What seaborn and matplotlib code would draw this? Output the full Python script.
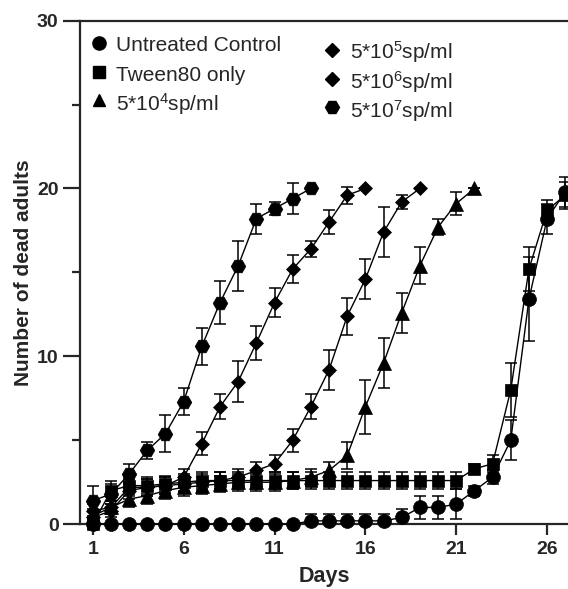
import numpy as np
import pandas as pd
import matplotlib.pyplot as plt
import seaborn as sns
from matplotlib.ticker import MultipleLocator

# mean number of dead adults per day and SEM
groups = ["Untreated Control", "Tween80 only", "5*10$^4$sp/ml",
          "5*10$^5$sp/ml", "5*10$^6$sp/ml", "5*10$^7$sp/ml"]
markers = ["o", "s", "^", "D", "D", "H"]

control = [0, 0, 0, 0, 0, 0, 0, 0, 0, 0, 0, 0, 0.2, 0.2, 0.2, 0.2, 0.2,
           0.4, 1.0, 1.0, 1.2, 2.0, 2.8, 5.0, 13.4, 18.2, 19.8]
control_sem = [0, 0, 0, 0, 0, 0, 0, 0, 0, 0, 0, 0, 0.4, 0.4, 0.4, 0.4, 0.4,
               0.5, 0.7, 0.7, 0.9, 0.3, 0.4, 1.2, 2.5, 0.9, 0.9]

tween = [0, 2.0, 2.3, 2.3, 2.4, 2.5, 2.6, 2.6, 2.6, 2.6, 2.6, 2.6, 2.6, 2.6,
         2.6, 2.6, 2.6, 2.6, 2.6, 2.6, 2.6, 3.3, 3.6, 8.0, 15.2, 18.7, 19.6]
tween_sem = [0.3, 0.6, 0.5, 0.5, 0.5, 0.5, 0.5, 0.5, 0.5, 0.5, 0.5, 0.5, 0.5,
             0.5, 0.5, 0.5, 0.5, 0.5, 0.5, 0.5, 0.5, 0.3, 0.5, 1.6, 1.3, 0.6, 0.8]

sp4 = [0.5, 1.0, 1.5, 1.7, 2.0, 2.2, 2.3, 2.4, 2.5, 2.5, 2.5, 2.6, 2.8, 3.2,
       4.1, 7.0, 9.6, 12.6, 15.4, 17.7, 19.1, 20.0]
sp4_sem = [0.4, 0.4, 0.5, 0.5, 0.5, 0.5, 0.5, 0.5, 0.5, 0.5, 0.5, 0.5, 0.5, 0.5,
           0.8, 1.6, 1.5, 1.2, 1.1, 0.5, 0.7, 0]

sp5 = [0.4, 0.8, 2.0, 2.2, 2.3, 2.4, 2.5, 2.6, 2.8, 3.2, 3.6, 5.0, 7.0, 9.2,
       12.4, 14.6, 17.4, 19.2, 20.0]
sp5_sem = [0.4, 0.4, 0.5, 0.5, 0.5, 0.5, 0.5, 0.5, 0.5, 0.5, 0.5, 0.7, 0.75,
           1.2, 1.1, 1.2, 1.5, 0.4, 0]

sp6 = [0.8, 1.0, 2.2, 2.2, 2.3, 2.8, 4.8, 7.0, 8.5, 10.8, 13.2, 15.2, 16.4,
       18.0, 19.6, 20.0]
sp6_sem = [0.4, 0.4, 0.5, 0.5, 0.5, 0.5, 0.7, 0.75, 1.2, 1.0, 0.85, 0.85, 0.5,
           0.7, 0.5, 0]

sp7 = [1.4, 1.8, 3.0, 4.4, 5.4, 7.3, 10.6, 13.2, 15.4, 18.2, 18.8, 19.4, 20.0]
sp7_sem = [0.9, 0.6, 0.6, 0.5, 1.1, 0.8, 1.1, 1.3, 1.5, 0.9, 0.4, 0.9, 0]

series = [control, tween, sp4, sp5, sp6, sp7]
sems = [control_sem, tween_sem, sp4_sem, sp5_sem, sp6_sem, sp7_sem]

rows = []
for g, vals, errs in zip(groups, series, sems):
    for i, (v, e) in enumerate(zip(vals, errs)):
        rows.append({"day": i + 1, "dead": v, "sem": e, "group": g})
df = pd.DataFrame(rows)

sns.set_style("ticks")
plt.rcParams["font.family"] = ["Liberation Sans", "DejaVu Sans"]
plt.rcParams["mathtext.default"] = "regular"

fig = plt.figure(figsize=(5.68, 5.89), dpi=100)
ax = fig.add_axes([0.141, 0.110, 0.859, 0.855])

msize = {"o": 10, "s": 9, "^": 10, "D": 7.5, "H": 10.5}

sns.lineplot(data=df, x="day", y="dead", style="group", style_order=groups,
             markers=dict(zip(groups, markers)), dashes=False, color="black",
             linewidth=1.0, markersize=9, markeredgecolor="black",
             markeredgewidth=0.5, errorbar=None, legend=False, ax=ax, zorder=3)
for ln in ax.lines:
    ln.set_clip_on(False)
    ln.set_markersize(msize.get(ln.get_marker(), 9))

ax.errorbar(df["day"], df["dead"], yerr=df["sem"], fmt="none", ecolor="black",
            elinewidth=1.1, capsize=4.5, capthick=1.1, zorder=2)

ax.set_xlim(0.3, 27.15)
ax.set_ylim(0, 30)
ax.set_xticks([1, 6, 11, 16, 21, 26])
ax.yaxis.set_major_locator(MultipleLocator(10))
ax.yaxis.set_minor_locator(MultipleLocator(5))

for s in ["left", "bottom", "top"]:
    ax.spines[s].set_linewidth(1.6)
ax.spines["right"].set_visible(False)

ax.tick_params(axis="y", which="major", length=12, width=1.6, labelsize=14)
ax.tick_params(axis="y", which="minor", length=6, width=1.6)
ax.tick_params(axis="x", which="major", length=8, width=1.6, labelsize=14, pad=4)
for lab in ax.get_xticklabels() + ax.get_yticklabels():
    lab.set_fontweight("bold")

ax.set_xlabel("Days", fontsize=15.5, fontweight="bold", labelpad=6)
ax.set_ylabel("Number of dead adults", fontsize=15, fontweight="bold", labelpad=3)

# legend: two columns of marker + label, placed in pixel terms of the axes
ax_h = 524 - 20.7
def fy(py):
    return (524 - py) / ax_h
def fx(px):
    return (px - 80) / 488

leg_mark_x = [99, 99, 99, 332, 332, 332]
leg_text_x = [116, 116, 116, 350, 350, 350]
leg_mark_y = [43, 72, 100, 50, 79, 107]
leg_base_y = [51.5, 81, 110.5, 59, 88.5, 117.5]
leg_msize = {"o": 9.5, "s": 8.5, "^": 9, "D": 7, "H": 10}
for g, m, mx, tx, my, by in zip(groups, markers, leg_mark_x, leg_text_x,
                                leg_mark_y, leg_base_y):
    ax.plot([fx(mx)], [fy(my)], marker=m, color="black", linestyle="none",
            markersize=leg_msize[m], transform=ax.transAxes, clip_on=False)
    ax.text(fx(tx), fy(by), g, transform=ax.transAxes, fontsize=15,
            va="baseline", ha="left")

fig.savefig("out.png", dpi=100)
